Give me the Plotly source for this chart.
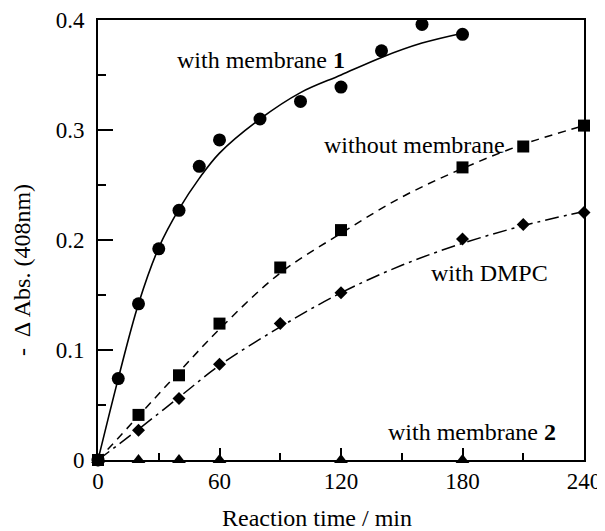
import plotly.graph_objects as go

# Data
t_m1 = [0, 10, 20, 30, 40, 50, 60, 80, 100, 120, 140, 160, 180]
y_m1 = [0, 0.074, 0.142, 0.192, 0.227, 0.267, 0.291, 0.310, 0.326, 0.339, 0.372, 0.396, 0.387]
t_m1_fit = [0, 10, 20, 30, 40, 50, 60, 80, 100, 120, 140, 160, 180]
y_m1_fit = [0, 0.074, 0.142, 0.193, 0.228, 0.256, 0.279, 0.310, 0.334, 0.350, 0.366, 0.379, 0.388]

t_wo = [0, 20, 40, 60, 90, 120, 180, 210, 240]
y_wo = [0, 0.041, 0.077, 0.124, 0.175, 0.209, 0.266, 0.285, 0.304]
t_wo_fit = [0, 20, 40, 60, 90, 120, 150, 180, 210, 240]
y_wo_fit = [0, 0.040, 0.080, 0.119, 0.170, 0.206, 0.239, 0.265, 0.287, 0.304]

t_dm = [0, 20, 40, 60, 90, 120, 180, 210, 240]
y_dm = [0, 0.027, 0.056, 0.087, 0.124, 0.152, 0.201, 0.214, 0.225]
t_dm_fit = [0, 20, 40, 60, 90, 120, 150, 180, 210, 240]
y_dm_fit = [0, 0.028, 0.057, 0.086, 0.121, 0.152, 0.177, 0.197, 0.213, 0.226]

t_m2 = [0, 20, 40, 60, 120, 180]
y_m2 = [0, 0, 0, 0, 0, 0]

x_ticks = [0, 60, 120, 180, 240]
y_ticks = [0, 0.1, 0.2, 0.3, 0.4]

FONT = "Liberation Serif"
black = "black"

# The page body adds an 8px offset; size the figure to fit the window.
OFF = 8
W, H = 605 - OFF, 531 - OFF
# plot box in window pixels: left 98, right 584, top 20, bottom 460
L, R, T, B = 98 - OFF, 605 - 584, 20 - OFF, 531 - 460
pw, ph = W - L - R, H - T - B

fig = go.Figure()

# fitted curves
fig.add_trace(go.Scatter(x=t_m1_fit, y=y_m1_fit, mode="lines", line_shape="spline",
                         line=dict(color=black, width=1.6), cliponaxis=False))
fig.add_trace(go.Scatter(x=t_wo_fit, y=y_wo_fit, mode="lines", line_shape="spline",
                         line=dict(color=black, width=1.5, dash="8px,6px"), cliponaxis=False))
fig.add_trace(go.Scatter(x=t_dm_fit, y=y_dm_fit, mode="lines", line_shape="spline",
                         line=dict(color=black, width=1.5, dash="14px,5px,3px,5px"), cliponaxis=False))

# markers
fig.add_trace(go.Scatter(x=t_m2, y=y_m2, mode="markers", cliponaxis=False,
                         marker=dict(symbol="triangle-up", size=12, color=black)))
fig.add_trace(go.Scatter(x=t_dm, y=y_dm, mode="markers", cliponaxis=False,
                         marker=dict(symbol="diamond", size=10, color=black)))
fig.add_trace(go.Scatter(x=t_m1, y=y_m1, mode="markers", cliponaxis=False,
                         marker=dict(symbol="circle", size=13, color=black)))
fig.add_trace(go.Scatter(x=t_wo, y=y_wo, mode="markers", cliponaxis=False,
                         marker=dict(symbol="square", size=12, color=black)))

ann_font = dict(family=FONT, size=24, color=black)
tick_font = dict(family=FONT, size=23, color=black)


def px_ann(x, y, text, angle=0):
    # x, y given in window pixels
    x -= OFF
    y -= OFF
    return dict(x=(x - L) / pw, y=(H - B - y) / ph, xref="paper", yref="paper",
                text=text, showarrow=False, font=ann_font, textangle=angle,
                xanchor="center", yanchor="middle")


anns = [
    px_ann(261, 60, "with membrane <b>1</b>"),
    px_ann(414, 145, "without membrane"),
    px_ann(489, 273, "with DMPC"),
    px_ann(472, 432, "with membrane <b>2</b>"),
    px_ann(22, 270, "-  Δ Abs. (408nm)", -90),
    px_ann(317, 518, "Reaction time / min"),
]

fig.update_layout(
    width=W, height=H,
    margin=dict(l=L, r=R, t=T, b=B, autoexpand=False),
    paper_bgcolor="white", plot_bgcolor="white",
    showlegend=False,
    font=dict(family=FONT, size=24, color=black),
    annotations=anns,
)

fig.update_xaxes(range=[0, 240], tickvals=x_ticks, ticktext=[str(v) for v in x_ticks],
                 ticks="inside", ticklen=12, tickwidth=1.5, tickcolor=black,
                 showline=True, linewidth=1.6, linecolor=black, mirror=True,
                 showgrid=False, zeroline=False, automargin=False,
                 ticklabeloverflow="allow",
                 minor=dict(dtick=30, tick0=0, ticks="inside", ticklen=7, tickwidth=1.5,
                            tickcolor=black, showgrid=False),
                 tickfont=tick_font)
fig.update_yaxes(range=[0, 0.4], tickvals=y_ticks, ticktext=["0", "0.1", "0.2", "0.3", "0.4"],
                 ticks="inside", ticklen=15, tickwidth=1.5, tickcolor=black,
                 showline=True, linewidth=1.6, linecolor=black, mirror=True,
                 showgrid=False, zeroline=False, automargin=False,
                 ticklabeloverflow="allow", ticklabelstandoff=7,
                 minor=dict(dtick=0.05, tick0=0, ticks="inside", ticklen=8, tickwidth=1.5,
                            tickcolor=black, showgrid=False),
                 tickfont=tick_font)

fig.write_html("out.html")
